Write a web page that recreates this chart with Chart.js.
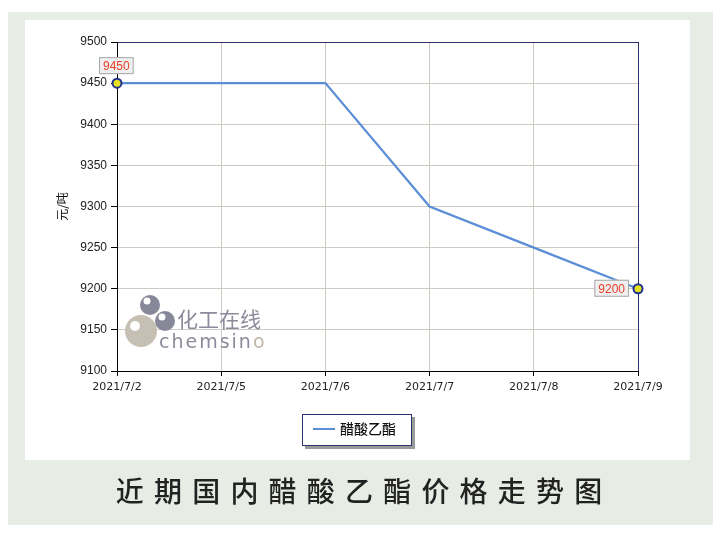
<!DOCTYPE html>
<html>
<head>
<meta charset="utf-8">
<script src="https://cdn.jsdelivr.net/npm/chart.js@4/dist/chart.umd.min.js"></script>
<style>
  html, body { margin: 0; padding: 0; background: #fff; }
  #wrap { width: 720px; height: 537px; position: relative; }
</style>
</head>
<body>
<div id="wrap"><canvas id="price_chart" width="720" height="537"></canvas></div>
<script>
const dates = ['2021/7/2', '2021/7/5', '2021/7/6', '2021/7/7', '2021/7/8', '2021/7/9']
const prices = [9450, 9450, 9450, 9300, 9250, 9200]
const series_name = '醋酸乙酯'
const y_title = '元/吨'
const chart_title = '近期国内醋酸乙酯价格走势图'
const labelled_points = [0, 5]

const NAVY = '#2b2f6e'
const LINE = '#5b8ed6'

// frame, panel, watermark, title
const framePlugin = {
    id: 'frame',
    beforeDraw(chart) {
        const ctx = chart.ctx
        ctx.save()
        ctx.fillStyle = '#ffffff'
        ctx.fillRect(0, 0, 720, 537)
        ctx.fillStyle = '#e7ece5'
        ctx.fillRect(8, 12, 705, 513)
        ctx.fillStyle = '#ffffff'
        ctx.fillRect(25, 20, 665, 440)
        ctx.restore()
    },
    beforeDatasetsDraw(chart) {
        const ctx = chart.ctx
        ctx.save()
        // watermark
        ctx.fillStyle = '#c6bfb4'
        ctx.beginPath(); ctx.arc(141, 331, 16, 0, Math.PI * 2); ctx.fill()
        ctx.fillStyle = '#fff'
        ctx.beginPath(); ctx.arc(135, 326, 5, 0, Math.PI * 2); ctx.fill()
        ctx.fillStyle = '#87879a'
        ctx.beginPath(); ctx.arc(150, 305, 10, 0, Math.PI * 2); ctx.fill()
        ctx.beginPath(); ctx.arc(165, 321, 10, 0, Math.PI * 2); ctx.fill()
        ctx.fillStyle = '#fff'
        ctx.beginPath(); ctx.arc(147, 301, 3.5, 0, Math.PI * 2); ctx.fill()
        ctx.beginPath(); ctx.arc(162, 317, 3.5, 0, Math.PI * 2); ctx.fill()
        ctx.fillStyle = '#8b8b9b'
        ctx.font = '21px "Noto Sans CJK SC"'
        ctx.textBaseline = 'alphabetic'
        ctx.fillText('化工在线', 177, 327)
        ctx.font = '19px "DejaVu Sans"'
        const word = 'chemsino'
        let x = 159
        for (let i = 0; i < word.length; i++) {
            ctx.fillStyle = i == word.length - 1 ? '#c2b6a8' : '#8b8b9b'
            ctx.fillText(word[i], x, 348)
            x += ctx.measureText(word[i]).width + 2
        }
        ctx.restore()
    },
    afterDraw(chart) {
        const ctx = chart.ctx
        const meta = chart.getDatasetMeta(0)
        ctx.save()
        // data labels
        ctx.font = '12px "Liberation Sans"'
        ctx.textBaseline = 'middle'
        labelled_points.forEach(i => {
            const pt = meta.data[i]
            const txt = String(prices[i])
            const w = ctx.measureText(txt).width + 8
            const h = 17
            let bx, by
            if (i == 0) { bx = pt.x - 18; by = pt.y - 26 }
            else { bx = pt.x - w - 9; by = pt.y - 9 }
            ctx.fillStyle = '#efefef'
            ctx.fillRect(bx, by, w, h)
            ctx.strokeStyle = '#a8a8a8'
            ctx.lineWidth = 1
            ctx.strokeRect(bx + 0.5, by + 0.5, w - 1, h - 1)
            ctx.fillStyle = '#e8402a'
            ctx.textAlign = 'center'
            ctx.fillText(txt, bx + w / 2, by + h / 2 + 1)
        })
        // legend
        const lx = 302, ly = 414, lw = 110, lh = 32
        ctx.fillStyle = '#9a9a9a'
        ctx.fillRect(lx + 3, ly + 3, lw, lh)
        ctx.fillStyle = '#fff'
        ctx.fillRect(lx, ly, lw, lh)
        ctx.strokeStyle = NAVY
        ctx.lineWidth = 1
        ctx.strokeRect(lx + 0.5, ly + 0.5, lw - 1, lh - 1)
        ctx.strokeStyle = chart.data.datasets[0].borderColor
        ctx.lineWidth = 2
        ctx.beginPath(); ctx.moveTo(lx + 11, ly + 15); ctx.lineTo(lx + 33, ly + 15); ctx.stroke()
        ctx.fillStyle = '#111'
        ctx.textAlign = 'left'
        ctx.font = '500 14px "Noto Sans CJK SC"'
        ctx.fillText(chart.data.datasets[0].label, lx + 38, ly + 15)
        // bottom title
        ctx.fillStyle = '#222'
        ctx.font = '500 28px "Noto Sans CJK SC"'
        ctx.textAlign = 'center'
        const step = 38.2
        const x0 = 359 - step * (chart_title.length - 1) / 2
        for (let i = 0; i < chart_title.length; i++) {
            ctx.fillText(chart_title[i], x0 + i * step, 491)
        }
        ctx.restore()
    }
}

const ctx = document.getElementById('price_chart')
const price_chart = new Chart(ctx, {
    type: 'line',
    data: {
        labels: dates,
        datasets: [{
            label: series_name,
            data: prices,
            borderColor: LINE,
            borderWidth: 2.2,
            tension: 0,
            pointRadius: dates.map((d, i) => labelled_points.includes(i) ? 4.5 : 0),
            pointBackgroundColor: '#e6e020',
            pointBorderColor: '#1f3290',
            pointBorderWidth: 2,
            clip: false
        }]
    },
    options: {
        responsive: false,
        animation: false,
        events: [],
        layout: { padding: { left: 25, right: 82, top: 42, bottom: 136 } },
        plugins: { legend: { display: false }, tooltip: { enabled: false } },
        scales: {
            x: {
                offset: false,
                afterFit(scale) { scale.height = 30 },
                border: { color: '#000', width: 1 },
                grid: {
                    color: c => c.index == dates.length - 1 ? NAVY : '#cfcac4',
                    tickColor: '#000',
                    tickLength: 5
                },
                ticks: {
                    color: '#222',
                    font: { family: 'DejaVu Sans', size: 11 },
                    padding: 5,
                    maxRotation: 0
                }
            },
            y: {
                min: 9100,
                max: 9500,
                afterFit(scale) { scale.width = 92 },
                border: { color: '#000', width: 1 },
                grid: {
                    color: c => c.tick && c.tick.value == 9500 ? NAVY : '#cfcac4',
                    tickColor: '#000',
                    tickLength: 6
                },
                ticks: {
                    stepSize: 50,
                    color: '#222',
                    font: { family: 'Liberation Sans', size: 12 },
                    padding: 4,
                    callback: v => String(v)
                },
                title: {
                    display: true,
                    text: y_title,
                    color: '#111',
                    font: { family: 'Noto Sans CJK SC', size: 12 },
                    padding: { top: 30, bottom: 0 }
                }
            }
        }
    },
    plugins: [framePlugin]
})
</script>
</body>
</html>
